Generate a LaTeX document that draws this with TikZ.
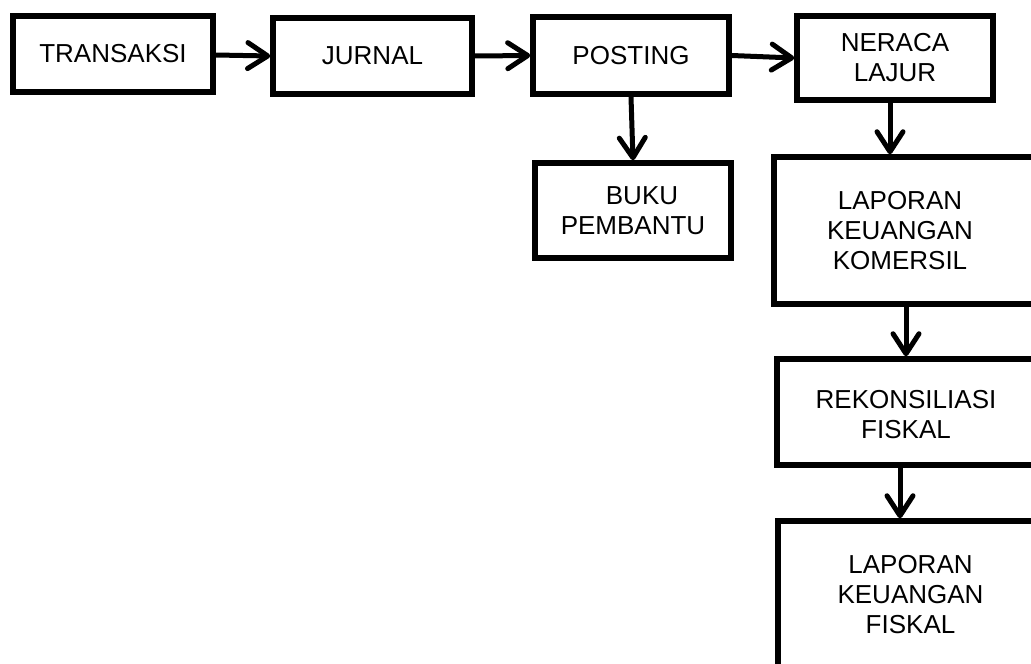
\documentclass[tikz,border=0pt]{standalone}
\usepackage{fontspec}
\setmainfont{Liberation Sans}
\usetikzlibrary{arrows.meta,calc}
\tikzset{
  box/.style={draw, line width=5.5pt, rectangle, inner sep=0pt, align=center,
    font=\fontsize{26}{30}\selectfont},
  lbl/.style={inner sep=0pt, align=center, font=\fontsize{26}{30}\selectfont},
  arr/.style={line width=5pt, -{Straight Barb[length=20pt,width=26pt,round]}}
}
\begin{document}
\begin{tikzpicture}[x=1pt,y=-1pt]
\useasboundingbox (0,0) rectangle (1031,664);
\fill[white] (0,0) rectangle (1031,664);
\clip (0,0) rectangle (1031,664);
% boxes
\node[box, minimum width=200pt, minimum height=76pt] (A) at (113,54) {TRANSAKSI};
\node[box, minimum width=199pt, minimum height=76pt] (B) at (372.5,56) {JURNAL};
\node[box, minimum width=196pt, minimum height=77pt] (C) at (631,55.5) {POSTING};
\node[box, minimum width=196pt, minimum height=84pt] (D) at (895,58) {NERACA\\LAJUR};
\node[box, minimum width=196pt, minimum height=95pt] (E) at (633,210.5) {\hspace*{18pt}BUKU\\PEMBANTU};
% boxes cut by the right (and bottom) edge
\node[box, minimum width=290pt, minimum height=147pt] (F) at (919,230.5) {};
\node[lbl] (Ft) at (900,231) {LAPORAN\\KEUANGAN\\KOMERSIL};
\node[box, minimum width=290pt, minimum height=106pt] (G) at (922,412) {};
\node[lbl] (Gt) at (906,415) {REKONSILIASI\\FISKAL};
\node[box, minimum width=290pt, minimum height=170pt] (H) at (923,606) {};
\node[lbl] (Ht) at (910.5,595) {LAPORAN\\KEUANGAN\\FISKAL};
% connectors
\draw[arr] ([yshift=-1pt]A.east) -- (B.west);
\draw[arr] (B.east) -- (C.west);
\draw[arr] (C.east) -- (D.west);
\draw[arr] (C.south) -- (E.north);
\draw[arr] ([xshift=-5pt]D.south) -- ([xshift=-5pt]D.south |- F.north);
\draw[arr] (F.south -| Gt) -- (G.north -| Gt);
\draw[arr] (G.south -| Ft) -- (H.north -| Ft);
\end{tikzpicture}
\end{document}
